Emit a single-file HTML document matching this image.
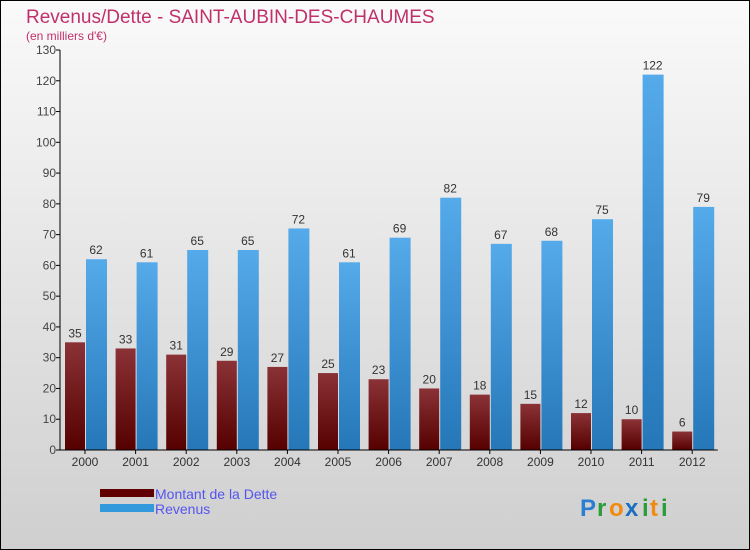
<!DOCTYPE html>
<html><head><meta charset="utf-8"><style>
body{margin:0}
#c{width:750px;height:550px;position:relative;box-sizing:border-box;border:1px solid #000;background:linear-gradient(#fafafa,#cfcfcf);font-family:"Liberation Sans",sans-serif;overflow:hidden}
</style></head><body>
<div id="c">
<svg id="s" width="750" height="550" style="position:absolute;left:-1px;top:-1px">
<defs>
<linearGradient id="gd" x1="0" y1="0" x2="0" y2="1"><stop offset="0" stop-color="#8a3236"/><stop offset="1" stop-color="#560000"/></linearGradient>
<linearGradient id="gr" x1="0" y1="0" x2="0" y2="1"><stop offset="0" stop-color="#55aaea"/><stop offset="1" stop-color="#2577b8"/></linearGradient>
</defs>
<text x="26" y="23" font-size="19" fill="#c0306a">Revenus/Dette - SAINT-AUBIN-DES-CHAUMES</text>
<text x="26" y="40" font-size="12" fill="#c0306a">(en milliers d'€)</text>
<g id="g"></g>
<rect x="100" y="489" width="54" height="8" fill="#600000"/>
<text x="155" y="499" font-size="14" fill="#5555ee">Montant de la Dette</text>
<rect x="100" y="504" width="54" height="8" fill="#3399dd"/>
<text x="155" y="514" font-size="14" fill="#5555ee">Revenus</text>
<g font-size="24" font-weight="bold">
<text x="580" y="516" fill="#2a7fd0">P</text><text x="597" y="516" fill="#2a9d3a">r</text><text x="609" y="516" fill="#f08a10">o</text><text x="625" y="516" fill="#1a6fc0">x</text><text x="642" y="516" fill="#2a9d3a">i</text><text x="650" y="516" fill="#f08a10">t</text><text x="661" y="516" fill="#2a9d3a">i</text>
</g>
</svg>
</div>
<script>
const years=["2000","2001","2002","2003","2004","2005","2006","2007","2008","2009","2010","2011","2012"];
const dette=[35,33,31,29,27,25,23,20,18,15,12,10,6];
const revenus=[62,61,65,65,72,61,69,82,67,68,75,122,79];
const yTicks=[0,10,20,30,40,50,60,70,80,90,100,110,120,130];
const NS="http://www.w3.org/2000/svg";
const g=document.getElementById('g');
const y0=450,y130=50,x0=60,step=50.6;
const Y=v=>y0-(v/130)*(y0-y130);
const X=i=>x0+25+i*step;
function mk(t,a,txt){const e=document.createElementNS(NS,t);for(const k in a)e.setAttribute(k,a[k]);if(txt!==undefined)e.textContent=txt;g.appendChild(e);return e;}
yTicks.forEach(v=>{
 let e=mk('line',{x1:x0-4,x2:x0,y1:Y(v),y2:Y(v),stroke:'#000'});
 
 
 e=mk('text',{x:x0-4,y:Y(v)+4,'font-size':12,fill:'#444','text-anchor':'end'},v);
 
 
});
years.forEach((yr,i)=>{
 const cx=X(i);
 let e=mk('rect',{x:cx-20,y:Y(dette[i]),width:20,height:y0-Y(dette[i]),fill:'url(#gd)'});
 
 
 e=mk('rect',{x:cx+1,y:Y(revenus[i]),width:21,height:y0-Y(revenus[i]),fill:'url(#gr)'});
 
 
 e=mk('text',{x:cx-10,y:Y(dette[i])-5,'font-size':12,fill:'#333','text-anchor':'middle'},dette[i]);
 
 
 e=mk('text',{x:cx+11,y:Y(revenus[i])-5,'font-size':12,fill:'#333','text-anchor':'middle'},revenus[i]);
 
 
 e=mk('line',{x1:cx,x2:cx,y1:y0,y2:y0+4,stroke:'#000'});
 
 
 e=mk('text',{x:cx,y:y0+16,'font-size':12,fill:'#333','text-anchor':'middle'},yr);
 
 
});
let a=mk('line',{x1:x0,x2:x0,y1:y130,y2:y0,stroke:'#000'});


a=mk('line',{x1:x0,x2:x0+13*step,y1:y0,y2:y0,stroke:'#000'});


</script>
</body></html>
